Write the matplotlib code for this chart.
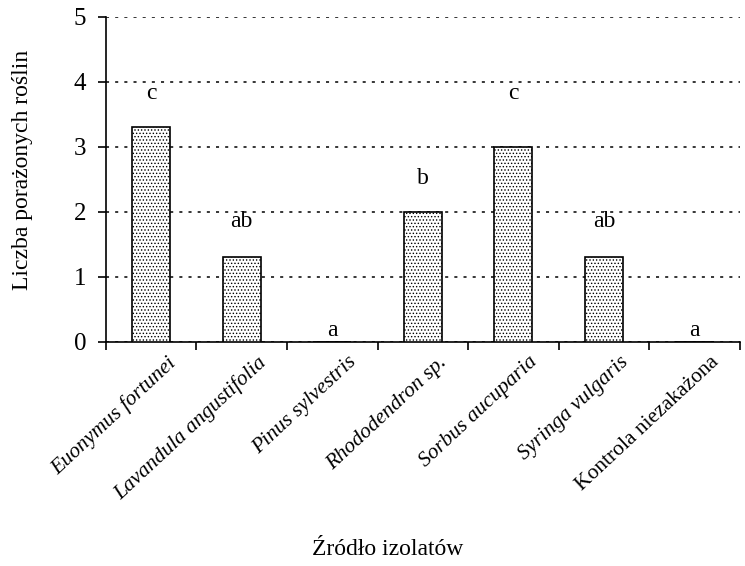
import numpy as np
import matplotlib.pyplot as plt

plt.rcParams['font.family'] = ['Liberation Serif', 'DejaVu Serif']
plt.rcParams['hatch.linewidth'] = 0.6
plt.rcParams['hatch.color'] = '#555555'

# dane
kategorie = ["Euonymus fortunei", "Lavandula angustifolia", "Pinus sylvestris",
             "Rhododendron sp.", "Sorbus aucuparia", "Syringa vulgaris",
             "Kontrola niezakażona"]
wartosci = [3.3, 1.3, 0.0, 2.0, 3.0, 1.3, 0.0]
litery = ["c", "ab", "a", "b", "c", "ab", "a"]
poz_liter = [3.83, 1.85, 0.17, 2.52, 3.83, 1.85, 0.17]

fig = plt.figure(figsize=(7.45, 5.66), dpi=100)
ax = fig.add_axes([0.142, 0.396, 0.851, 0.574])

x = np.arange(len(kategorie))
ax.bar(x, wartosci, width=0.42, color='white', edgecolor='black',
       linewidth=1.2, hatch='.....', zorder=3)

for xi, lit, yl in zip(x, litery, poz_liter):
    ax.text(xi, yl, lit, ha='center', va='center', fontsize=17)

ax.set_xlim(-0.5, len(kategorie) - 0.5)
ax.set_ylim(0, 5)
ax.set_yticks(range(6))
ax.yaxis.grid(True, linestyle=(0, (2, 4)), color='black', linewidth=1.1)
ax.set_axisbelow(True)

ax.set_xticks(np.arange(len(kategorie) + 1) - 0.5)
ax.set_xticklabels([])
ax.tick_params(axis='x', length=6, width=1.2)
ax.tick_params(axis='y', length=6, width=1.2, labelsize=18, pad=8)

for xi, kat in zip(x, kategorie):
    styl = 'normal' if kat.startswith('Kontrola') else 'italic'
    ax.text(xi + 0.17, -0.17, kat, rotation=43, ha='right', va='top',
            rotation_mode='anchor', fontsize=15.5, style=styl,
            transform=ax.transData)

for s in ['top', 'right']:
    ax.spines[s].set_visible(False)
ax.spines['left'].set_linewidth(1.2)
ax.spines['bottom'].set_linewidth(1.2)

ax.set_ylabel("Liczba porażonych roślin", fontsize=17)
ax.yaxis.set_label_coords(-0.115, 0.53)
fig.text(0.52, 0.02, "Źródło izolatów", ha='center', fontsize=17)

fig.savefig("out.png", dpi=100)
